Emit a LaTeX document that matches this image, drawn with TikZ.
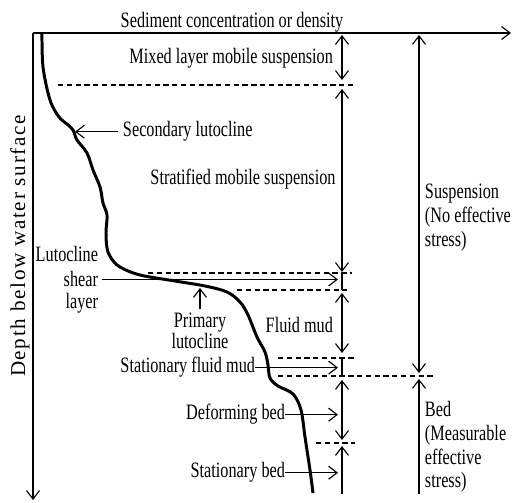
\documentclass[tikz,border=0pt]{standalone}
\usepackage{fontspec}
\setmainfont{Liberation Serif}[FakeStretch=0.74]
\newfontfamily\axisfont{Liberation Serif}[LetterSpace=8]
\usetikzlibrary{arrows.meta,positioning}

\begin{document}
\begin{tikzpicture}[
  x=0.02cm,y=-0.02cm,
  lbl/.style={font=\fontsize{12.5}{13.6}\selectfont,inner sep=0pt,outer sep=0pt},
  arr/.style={-{Straight Barb[length=1.7mm,width=2.6mm]},line width=0.65pt},
  dbl/.style={{Straight Barb[length=1.7mm,width=2.6mm]}-{Straight Barb[length=1.7mm,width=2.6mm]},line width=0.65pt},
  lim/.style={dash pattern=on 3pt off 2pt,line width=0.65pt},
  profile/.style={line width=1.7pt,line join=round}
]
\useasboundingbox (0,0) rectangle (512,503);

% axes
\coordinate (orig) at (33,33);
\coordinate (xend) at (511,33);
\coordinate (yend) at (33,500);
\draw[arr] (orig) -- (xend);
\draw[arr] (orig) -- (yend);
\node[lbl,anchor=base] (xlab) at (232,28) {Sediment concentration or density};
\node[lbl,font=\fontsize{12}{13.6}\axisfont,rotate=90] (ylab) at (20,246) {Depth below water surface};

% concentration profile
\draw[profile] plot[smooth,tension=0.55] coordinates {
  (42,33) (43,67) (50,100) (59,117) (67,124) (73,130) (77,140) (87,153)
  (93,170) (100,187) (103,203) (107,215) (106,232) (107,248) (111,258)
  (120,267) (140,275) (175,281) (205,286) (227,292) (240,302) (248,315)
  (257,337) (265,352) (268,365) (270,378) (278,386) (293,394) (301,410)
  (305,437) (310,470) (313,493)};

% layer limits
\coordinate (l1a) at (58,85);   \coordinate (l1b) at (355,85);
\coordinate (l2a) at (148,273); \coordinate (l2b) at (352,273);
\coordinate (l3a) at (237,290); \coordinate (l3b) at (347,290);
\coordinate (l4a) at (278,358); \coordinate (l4b) at (355,358);
\coordinate (l5a) at (278,376); \coordinate (l5b) at (433,376);
\coordinate (l6a) at (316,443); \coordinate (l6b) at (355,443);
\foreach \n in {1,...,6} { \draw[lim] (l\n a) -- (l\n b); }

% layer extents
\coordinate (m1) at (342,35);  \coordinate (m2) at (342,80);
\coordinate (s1) at (342,89);  \coordinate (s2) at (342,272);
\coordinate (b1) at (342,274); \coordinate (b2) at (342,290);
\coordinate (f1) at (342,293); \coordinate (f2) at (342,353);
\coordinate (c1) at (342,358); \coordinate (c2) at (342,376);
\coordinate (d1) at (342,380); \coordinate (d2) at (342,440);
\coordinate (e1) at (342,494); \coordinate (e2) at (342,446);
\coordinate (u1) at (419,35);  \coordinate (u2) at (419,373);
\coordinate (v1) at (419,494); \coordinate (v2) at (419,379);
\draw[dbl] (m1) -- (m2);
\draw[dbl] (s1) -- (s2);
\draw[line width=0.65pt] (b1) -- (b2);
\draw[dbl] (f1) -- (f2);
\draw[line width=0.65pt] (c1) -- (c2);
\draw[dbl] (d1) -- (d2);
\draw[arr] (e1) -- (e2);
\draw[dbl] (u1) -- (u2);
\draw[arr] (v1) -- (v2);

% labels
\node[lbl,anchor=base east] (mixed) at (333,64) {Mixed layer mobile suspension};
\node[lbl,anchor=base west] (second) at (123,137) {Secondary lutocline};
\node[lbl,anchor=base] (strat) at (243,185) {Stratified mobile suspension};
\node[lbl,anchor=base east] (lut) at (98,262) {Lutocline};
\node[lbl,anchor=base east] (shear) at (98,287) {shear};
\node[lbl,anchor=base east] (layer) at (98,309) {layer};
\node[lbl,font=\fontsize{12.5}{12}\selectfont,anchor=north,align=center] (primary) at (200,313) {Primary\\lutocline};
\node[lbl,anchor=base east] (fluid) at (333,333) {Fluid mud};
\node[lbl,anchor=base east] (statfm) at (255,373) {Stationary fluid mud};
\node[lbl,anchor=base east] (deform) at (285,420) {Deforming bed};
\node[lbl,anchor=base east] (statbed) at (285,478) {Stationary bed};
\node[lbl,anchor=north west,align=left] (susp) at (425,184) {Suspension\\(No effective\\stress)};
\node[lbl,anchor=north west,align=left] (bed) at (425,401) {Bed\\(Measurable\\effective\\stress)};

% pointers
\coordinate (secpt) at (75,131);
\coordinate (shearpt) at (338,282);
\coordinate (primpt) at (200,288);
\coordinate (sfmpt) at (338,367);
\coordinate (defpt) at (338,413);
\coordinate (sbpt) at (338,473);
\draw[arr,shorten <=3pt] (second.west) -- (second.west -| secpt);
\draw[arr,shorten <=2pt] (shear.east) -- (shear.east -| shearpt);
\draw[arr,shorten <=2pt] (primary.north) -- (primpt);
\draw[arr] (statfm.east) -- (statfm.east -| sfmpt);
\draw[arr] (deform.east) -- (deform.east -| defpt);
\draw[arr] (statbed.east) -- (statbed.east -| sbpt);
\end{tikzpicture}
\end{document}
